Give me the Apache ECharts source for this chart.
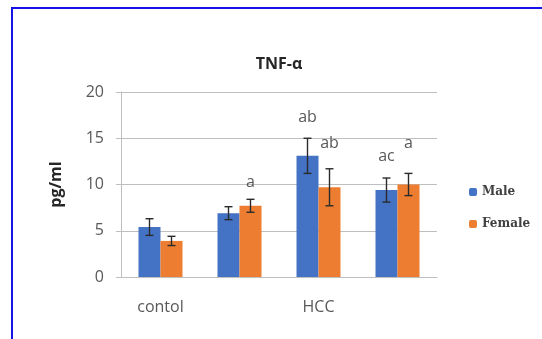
<!DOCTYPE html>
<html>
<head>
<meta charset="utf-8">
<script src="https://cdn.jsdelivr.net/npm/echarts@6/dist/echarts.min.js"></script>
<style>
  html, body { margin: 0; padding: 0; background: #fff; overflow: hidden; }
  #frame { position: absolute; left: 11px; top: 7px; width: 700px; height: 500px; border: 2px solid #1414e6; }
  #chart { position: absolute; left: 0; top: 0; width: 542px; height: 339px; }
</style>
</head>
<body>
<div id="frame"></div>
<div id="chart"></div>
<script>
const categories = ['contol', '', 'HCC', ''];
const maleValues = [5.4, 6.9, 13.1, 9.4];
const maleErrors = [0.9, 0.7, 1.9, 1.3];
const femaleValues = [3.9, 7.7, 9.7, 10.0];
const femaleErrors = [0.5, 0.7, 2.0, 1.2];
const maleLetters = ['', '', 'ab', 'ac'];
const maleLetterAt = [0, 0, 17.2, 13.0];
const femaleLetters = ['', 'a', 'ab', 'a'];
const femaleLetterAt = [0, 10.2, 14.4, 14.4];
const yTicks = [0, 5, 10, 15, 20];

const BAR_W = 22;
const chart = echarts.init(document.getElementById('chart'));

function errorSeries(name, values, errors, letters, letterAt, offset) {
  const data = values.map((v, i) => [i, v, errors[i], letters[i], letterAt[i]]);
  return {
    type: 'custom',
    name: name + ' error',
    z: 5,
    silent: true,
    renderItem: function (params, api) {
      const i = api.value(0), v = api.value(1), e = api.value(2);
      const top = api.coord([i, v + e]);
      const bot = api.coord([i, v - e]);
      const x = top[0] + offset;
      const cap = 4;
      const style = { stroke: '#2b2b2b', lineWidth: 1.4 };
      const children = [
        { type: 'line', shape: { x1: x, y1: top[1], x2: x, y2: bot[1] }, style: style },
        { type: 'line', shape: { x1: x - cap, y1: top[1], x2: x + cap, y2: top[1] }, style: style },
        { type: 'line', shape: { x1: x - cap, y1: bot[1], x2: x + cap, y2: bot[1] }, style: style }
      ];
      const txt = data[params.dataIndex][3];
      if (txt) {
        const lp = api.coord([i, data[params.dataIndex][4]]);
        children.push({
          type: 'text',
          style: {
            text: txt, x: x, y: lp[1], align: 'center', verticalAlign: 'middle',
            fill: '#595959', font: '16px "Open Sans", sans-serif'
          }
        });
      }
      return { type: 'group', children: children };
    },
    data: data
  };
}

chart.setOption({
  animation: false,
  title: {
    text: 'TNF-α',
    left: 274, top: 51, textAlign: 'center',
    textStyle: { fontFamily: 'Open Sans', fontWeight: 'bold', fontSize: 16, color: '#262626' }
  },
  legend: {
    orient: 'vertical',
    left: 464, top: 181,
    itemWidth: 8, itemHeight: 8, itemGap: 20,
    data: ['Male', 'Female'],
    textStyle: { fontFamily: 'DejaVu Serif', fontWeight: 'bold', fontSize: 12, color: '#404040' }
  },
  grid: { left: 121, right: 105, top: 92, bottom: 62 },
  xAxis: {
    type: 'category',
    data: categories,
    axisLine: { lineStyle: { color: '#bfbfbf' } },
    axisTick: { show: false },
    axisLabel: { color: '#595959', fontFamily: 'Open Sans', fontSize: 16, margin: 22, interval: 0 }
  },
  yAxis: {
    type: 'value',
    min: 0, max: 20, interval: 5,
    name: 'pg/ml',
    nameLocation: 'middle',
    nameRotate: 90,
    nameGap: 57,
    nameTextStyle: { fontFamily: 'Open Sans', fontWeight: 'bold', fontSize: 16, color: '#262626' },
    axisLine: { show: true, lineStyle: { color: '#bfbfbf' } },
    axisTick: { show: true, length: 5, lineStyle: { color: '#bfbfbf' } },
    axisLabel: {
      color: '#595959', fontFamily: 'Open Sans', fontSize: 16, margin: 17,
      formatter: v => yTicks.includes(v) ? String(v) : ''
    },
    splitLine: { lineStyle: { color: '#bfbfbf' } }
  },
  series: [
    { name: 'Male', type: 'bar', data: maleValues, barWidth: BAR_W, barGap: '0%', itemStyle: { color: '#4472C4' } },
    { name: 'Female', type: 'bar', data: femaleValues, barWidth: BAR_W, barGap: '0%', itemStyle: { color: '#ED7D31' } },
    errorSeries('Male', maleValues, maleErrors, maleLetters, maleLetterAt, -BAR_W / 2),
    errorSeries('Female', femaleValues, femaleErrors, femaleLetters, femaleLetterAt, BAR_W / 2)
  ]
});
</script>
</body>
</html>
